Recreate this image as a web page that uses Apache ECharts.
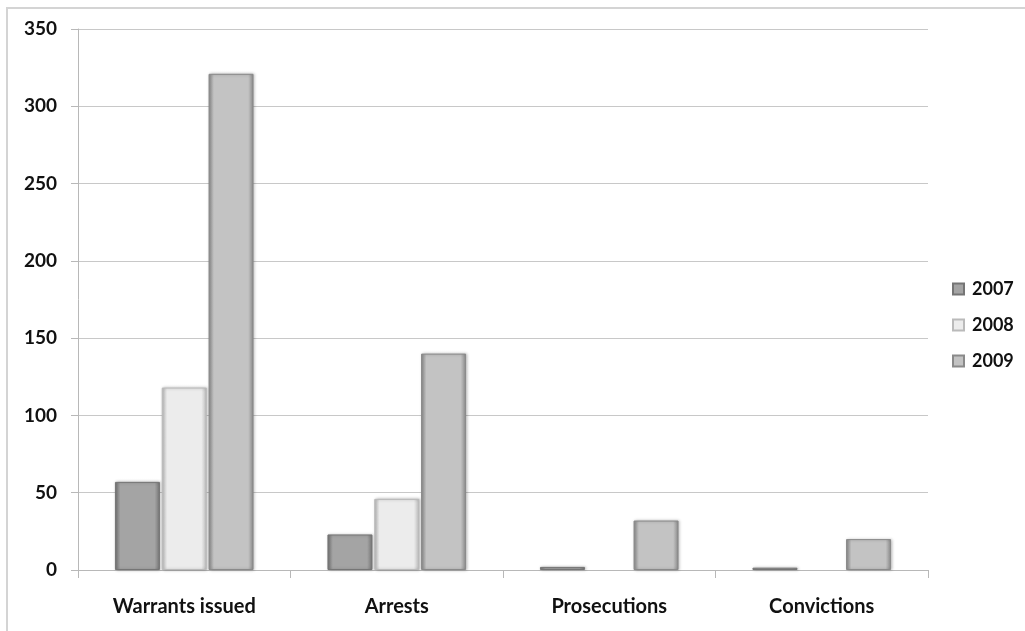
<!DOCTYPE html>
<html>
<head>
<meta charset="utf-8">
<script src="https://cdn.jsdelivr.net/npm/echarts@6/dist/echarts.min.js"></script>
<style>
  html, body { margin: 0; padding: 0; background: #fff; }
  #chart { width: 1025px; height: 631px; }
</style>
</head>
<body>
<div id="chart"></div>
<script>
// Enforcement stages and yearly counts
const categories = ['Warrants issued', 'Arrests', 'Prosecutions', 'Convictions'];
const years = ['2007', '2008', '2009'];
const values2007 = [57, 23, 2, 1.5];
const values2008 = [118, 46, 0, 0];
const values2009 = [321, 140, 32, 20];
const yTicks = { min: 0, max: 350, interval: 50 };

// Grey shades per year: [edge, face]
const shades = [
  ['#757575', '#a4a4a4'],
  ['#bababa', '#ececec'],
  ['#8a8a8a', '#c3c3c3']
];

function bevel(edge, face) {
  return new echarts.graphic.LinearGradient(0, 0, 1, 0, [
    { offset: 0, color: edge },
    { offset: 0.12, color: face },
    { offset: 0.88, color: face },
    { offset: 1, color: edge }
  ]);
}

const seriesData = [values2007, values2008, values2009];
const font = 'Lato, "Open Sans", sans-serif';

const chart = echarts.init(document.getElementById('chart'), null, { renderer: 'canvas' });

chart.setOption({
  animation: false,
  backgroundColor: '#ffffff',
  graphic: [{
    type: 'rect',
    shape: { x: 7, y: 8, width: 1040, height: 650 },
    style: { fill: 'none', stroke: '#d4d4d4', lineWidth: 2 },
    silent: true
  }],
  grid: { left: 78, right: 97, top: 29, bottom: 61, containLabel: false },
  legend: {
    orient: 'vertical',
    left: 947,
    top: 275,
    itemWidth: 11,
    itemHeight: 11,
    itemGap: 18,
    icon: 'rect',
    data: years,
    textStyle: { fontFamily: font, fontWeight: 'bold', fontSize: 18, color: '#111', lineHeight: 18, padding: [0, 0, 0, 3] }
  },
  xAxis: {
    type: 'category',
    data: categories,
    axisLine: { lineStyle: { color: '#b8b8b8', width: 1 } },
    axisTick: { show: true, length: 8, lineStyle: { color: '#b8b8b8' } },
    axisLabel: { fontFamily: font, fontWeight: 'bold', fontSize: 20, color: '#111', margin: 27 }
  },
  yAxis: {
    type: 'value',
    min: yTicks.min,
    max: yTicks.max,
    interval: yTicks.interval,
    axisLine: { show: true, lineStyle: { color: '#b8b8b8', width: 1 } },
    axisTick: { show: true, length: 7, lineStyle: { color: '#b8b8b8' } },
    splitLine: { lineStyle: { color: '#c8c8c8', width: 1 } },
    axisLabel: { fontFamily: font, fontWeight: 'bold', fontSize: 19, color: '#111', margin: 21 }
  },
  series: years.map((y, i) => ({
    name: y,
    type: 'bar',
    data: seriesData[i].map(v => v === 0
      ? { value: v, itemStyle: { borderWidth: 0, shadowBlur: 0, shadowOffsetX: 0 } }
      : v),
    barWidth: 45,
    barGap: '4%',
    itemStyle: {
      color: bevel(shades[i][0], shades[i][1]),
      borderColor: shades[i][0],
      borderWidth: 1,
      shadowColor: 'rgba(0,0,0,0.25)',
      shadowBlur: 3,
      shadowOffsetX: 1
    }
  }))
});
</script>
</body>
</html>
